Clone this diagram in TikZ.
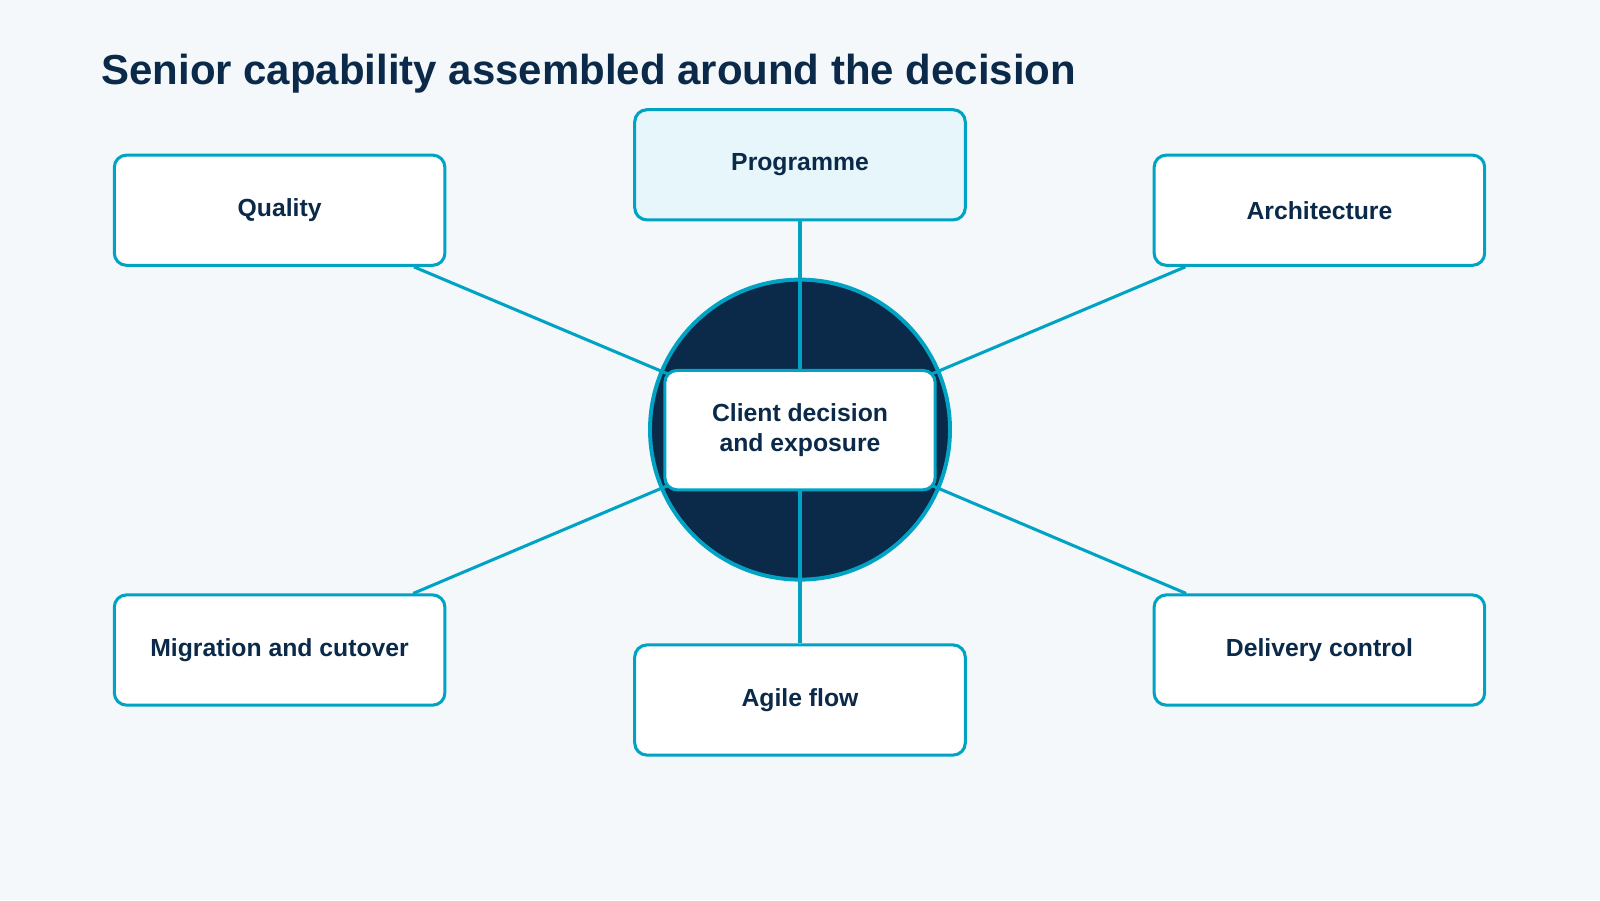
\documentclass[tikz,border=0pt]{standalone}
\usepackage{fontspec}
\setmainfont{Liberation Sans}
\usetikzlibrary{positioning}
\definecolor{navy}{HTML}{0B2A4A}
\definecolor{teal}{HTML}{00A3C4}
\definecolor{paper}{HTML}{F4F8FB}
\definecolor{pale}{HTML}{E6F6FA}
\tikzset{
  role/.style={rectangle, rounded corners=0.12cm, minimum width=3.24cm, minimum height=1.08cm, text centered, draw=teal, line width=0.85pt, fill=white, text=navy, font=\fontsize{6.9pt}{8.6pt}\selectfont\bfseries},
  link/.style={draw=teal, line width=0.85pt}
}
\begin{document}
\begin{tikzpicture}
\fill[paper] (0,0) rectangle (15.68,-8.82);
\useasboundingbox (0,0) rectangle (15.68,-8.82);
\node[anchor=west, text=navy, font=\fontsize{11.7pt}{14pt}\selectfont\bfseries] (title) at (0.87,-0.72) {Senior capability assembled around the decision};

\node (hub) [circle, minimum size=2.94cm, fill=navy, draw=teal, line width=1.1pt] at (7.84,-4.21) {};
\node (prog) [role, fill=pale] at (7.84,-1.615) {Programme};
\node (qual) [role] at (2.74,-2.06) {Quality};
\node (arch) [role] at (12.93,-2.06) {Architecture};
\node (migr) [role] at (2.74,-6.37) {Migration and cutover};
\node (agile) [role] at (7.84,-6.86) {Agile flow};
\node (deliv) [role] at (12.93,-6.37) {Delivery control};

\foreach \n in {prog,qual,arch,migr,agile,deliv}
  \draw[link] (hub.center) -- (\n);

\node (core) [role, minimum width=2.65cm, minimum height=1.17cm, align=center] at (7.84,-4.215) {Client decision\\and exposure};
\end{tikzpicture}
\end{document}
